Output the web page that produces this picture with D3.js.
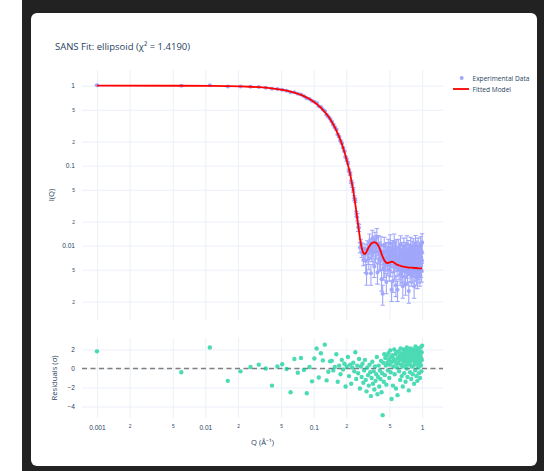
<!DOCTYPE html>
<html>
<head>
<meta charset="utf-8">
<script src="https://cdn.jsdelivr.net/npm/d3@7"></script>
<style>
  html, body { margin: 0; padding: 0; background: #fff; }
  svg { display: block; }
</style>
</head>
<body>
<div id="chart"></div>
<script>
const chartTitle = "SANS Fit: ellipsoid (χ² = 1.4190)";
const legendLabels = ["Experimental Data", "Fitted Model"];

// Q values (1/Å), 200 points
const q = [
  0.0010,0.0060,0.0110,0.0161,0.0211,0.0261,0.0311,0.0361,0.0412,0.0462,
  0.0512,0.0562,0.0612,0.0663,0.0713,0.0763,0.0813,0.0863,0.0914,0.0964,
  0.1014,0.1064,0.1114,0.1165,0.1215,0.1265,0.1315,0.1365,0.1416,0.1466,
  0.1516,0.1566,0.1616,0.1667,0.1717,0.1767,0.1817,0.1867,0.1918,0.1968,
  0.2018,0.2068,0.2118,0.2169,0.2219,0.2269,0.2319,0.2369,0.2420,0.2470,
  0.2520,0.2570,0.2620,0.2671,0.2721,0.2771,0.2821,0.2871,0.2922,0.2972,
  0.3022,0.3072,0.3122,0.3173,0.3223,0.3273,0.3323,0.3373,0.3424,0.3474,
  0.3524,0.3574,0.3624,0.3675,0.3725,0.3775,0.3825,0.3875,0.3926,0.3976,
  0.4026,0.4076,0.4126,0.4177,0.4227,0.4277,0.4327,0.4377,0.4428,0.4478,
  0.4528,0.4578,0.4628,0.4679,0.4729,0.4779,0.4829,0.4879,0.4930,0.4980,
  0.5030,0.5080,0.5130,0.5181,0.5231,0.5281,0.5331,0.5381,0.5432,0.5482,
  0.5532,0.5582,0.5632,0.5683,0.5733,0.5783,0.5833,0.5883,0.5934,0.5984,
  0.6034,0.6084,0.6134,0.6185,0.6235,0.6285,0.6335,0.6385,0.6436,0.6486,
  0.6536,0.6586,0.6637,0.6687,0.6737,0.6787,0.6837,0.6888,0.6938,0.6988,
  0.7038,0.7088,0.7139,0.7189,0.7239,0.7289,0.7339,0.7390,0.7440,0.7490,
  0.7540,0.7590,0.7641,0.7691,0.7741,0.7791,0.7841,0.7892,0.7942,0.7992,
  0.8042,0.8092,0.8143,0.8193,0.8243,0.8293,0.8343,0.8394,0.8444,0.8494,
  0.8544,0.8594,0.8645,0.8695,0.8745,0.8795,0.8845,0.8896,0.8946,0.8996,
  0.9046,0.9096,0.9147,0.9197,0.9247,0.9297,0.9347,0.9398,0.9448,0.9498,
  0.9548,0.9598,0.9649,0.9699,0.9749,0.9799,0.9849,0.9900,0.9950,1.0000
];

// measured intensity
const iExp = [
  1.014,0.995,1.013,0.979,0.978,0.971,0.960,0.943,0.913,0.909,
  0.891,0.867,0.827,0.826,0.790,0.773,0.738,0.695,0.682,0.644,
  0.629,0.606,0.554,0.540,0.504,0.483,0.433,0.409,0.385,0.357,
  0.326,0.302,0.284,0.245,0.230,0.205,0.190,0.168,0.151,0.128,
  0.118,0.108,0.0871,0.0792,0.0627,0.0574,0.0500,0.0392,0.0369,0.0249,
  0.0227,0.0170,0.0167,0.0095,0.0108,0.0083,0.0093,0.0066,0.0077,0.0091,
  0.0064,0.0045,0.0090,0.0080,0.0069,0.0109,0.0094,0.0045,0.0088,0.0122,
  0.0081,0.0103,0.0055,0.0115,0.0085,0.0095,0.0128,0.0046,0.0084,0.0105,
  0.0067,0.0087,0.0070,0.0101,0.0038,0.0068,0.0025,0.0081,0.0052,0.0099,
  0.0055,0.0083,0.0066,0.0035,0.0085,0.0070,0.0058,0.0094,0.0076,0.0050,
  0.0068,0.0107,0.0057,0.0085,0.0028,0.0074,0.0091,0.0036,0.0065,0.0079,
  0.0109,0.0053,0.0073,0.0089,0.0032,0.0066,0.0093,0.0059,0.0028,0.0075,
  0.0066,0.0094,0.0053,0.0070,0.0081,0.0044,0.0104,0.0061,0.0071,0.0047,
  0.0085,0.0057,0.0031,0.0077,0.0065,0.0097,0.0049,0.0072,0.0058,0.0086,
  0.0033,0.0065,0.0080,0.0054,0.0104,0.0062,0.0045,0.0072,0.0091,0.0058,
  0.0027,0.0068,0.0082,0.0060,0.0049,0.0074,0.0099,0.0064,0.0043,0.0077,
  0.0055,0.0088,0.0066,0.0047,0.0079,0.0095,0.0057,0.0070,0.0031,0.0085,
  0.0060,0.0071,0.0050,0.0105,0.0065,0.0075,0.0044,0.0067,0.0089,0.0057,
  0.0040,0.0080,0.0061,0.0097,0.0053,0.0071,0.0047,0.0086,0.0063,0.0073,
  0.0043,0.0058,0.0078,0.0101,0.0056,0.0069,0.0049,0.0083,0.0065,0.0110
];

// error bars
const iErr = [
  0.0080,0.0080,0.0080,0.0079,0.0078,0.0078,0.0077,0.0075,0.0074,0.0073,
  0.0071,0.0069,0.0068,0.0066,0.0063,0.0061,0.0059,0.0057,0.0054,0.0052,
  0.0075,0.0071,0.0067,0.0064,0.0060,0.0056,0.0053,0.0049,0.0046,0.0042,
  0.0065,0.0060,0.0055,0.0050,0.0046,0.0041,0.0037,0.0034,0.0030,0.0027,
  0.0047,0.0041,0.0036,0.0031,0.0027,0.0040,0.0034,0.0028,0.0023,0.0019,
  0.0024,0.0020,0.0017,0.0014,0.0012,0.0012,0.0014,0.0010,0.0012,0.0014,
  0.0018,0.0013,0.0025,0.0022,0.0019,0.0031,0.0026,0.0013,0.0025,0.0034,
  0.0023,0.0029,0.0015,0.0032,0.0024,0.0027,0.0036,0.0013,0.0024,0.0029,
  0.0019,0.0024,0.0020,0.0028,0.0011,0.0019,0.0007,0.0023,0.0015,0.0028,
  0.0015,0.0023,0.0018,0.0010,0.0024,0.0020,0.0016,0.0026,0.0021,0.0014,
  0.0019,0.0030,0.0016,0.0024,0.0008,0.0021,0.0025,0.0010,0.0018,0.0022,
  0.0031,0.0015,0.0020,0.0025,0.0009,0.0018,0.0026,0.0017,0.0008,0.0021,
  0.0018,0.0026,0.0015,0.0020,0.0023,0.0012,0.0029,0.0017,0.0020,0.0013,
  0.0024,0.0016,0.0009,0.0022,0.0018,0.0027,0.0014,0.0020,0.0016,0.0024,
  0.0009,0.0018,0.0022,0.0015,0.0029,0.0017,0.0013,0.0020,0.0025,0.0016,
  0.0008,0.0019,0.0023,0.0017,0.0014,0.0021,0.0028,0.0018,0.0012,0.0022,
  0.0015,0.0025,0.0018,0.0013,0.0022,0.0027,0.0016,0.0020,0.0009,0.0024,
  0.0017,0.0020,0.0014,0.0029,0.0018,0.0021,0.0012,0.0019,0.0025,0.0016,
  0.0011,0.0022,0.0017,0.0027,0.0015,0.0020,0.0013,0.0024,0.0018,0.0020,
  0.0012,0.0016,0.0022,0.0028,0.0016,0.0019,0.0014,0.0023,0.0018,0.0031
];

// fitted ellipsoid model
const iModel = [
  1.000,0.998,0.995,0.989,0.980,0.970,0.957,0.943,0.926,0.908,
  0.888,0.867,0.844,0.819,0.793,0.766,0.739,0.710,0.681,0.651,
  0.621,0.591,0.560,0.530,0.499,0.469,0.440,0.411,0.382,0.354,
  0.327,0.301,0.276,0.252,0.229,0.207,0.187,0.168,0.149,0.133,
  0.117,0.103,0.090,0.078,0.067,0.057,0.048,0.040,0.033,0.027,
  0.0220,0.0180,0.0150,0.0124,0.0106,0.0094,0.0086,0.0081,0.0079,0.0079,
  0.0081,0.0084,0.0088,0.0092,0.0096,0.0099,0.0102,0.0105,0.0107,0.0108,
  0.0109,0.0110,0.0110,0.0110,0.0109,0.0108,0.0106,0.0104,0.0101,0.0098,
  0.0095,0.0091,0.0087,0.0083,0.0079,0.0076,0.0073,0.0070,0.0068,0.0066,
  0.0064,0.0063,0.0062,0.0061,0.0061,0.00605,0.00605,0.0061,0.0061,0.00615,
  0.0062,0.0062,0.00625,0.00625,0.0063,0.0063,0.0063,0.00625,0.0062,0.00615,
  0.0061,0.00605,0.0060,0.00595,0.0059,0.00585,0.0058,0.00578,0.00575,0.00572,
  0.0057,0.00568,0.00566,0.00564,0.00562,0.0056,0.00558,0.00556,0.00554,0.00552,
  0.0055,0.00549,0.00548,0.00547,0.00546,0.00545,0.00544,0.00543,0.00542,0.00541,
  0.0054,0.00539,0.00538,0.00537,0.00536,0.00535,0.00534,0.00533,0.00532,0.00531,
  0.0053,0.0053,0.0053,0.0053,0.0053,0.0053,0.0053,0.0053,0.0053,0.0053,
  0.0053,0.0053,0.0053,0.0053,0.0053,0.00525,0.00525,0.00525,0.00525,0.00525,
  0.00525,0.00525,0.00525,0.00525,0.00525,0.00525,0.00525,0.00525,0.00525,0.00525,
  0.0052,0.0052,0.0052,0.0052,0.0052,0.0052,0.0052,0.0052,0.0052,0.0052,
  0.0052,0.0052,0.0052,0.0052,0.0052,0.0052,0.0052,0.0052,0.0052,0.0052
];

// normalised residuals (sigma)
const residuals = [
  1.8,-0.4,2.2,-1.3,-0.3,0.15,0.4,0.0,-1.8,0.2,
  0.45,-0.05,-2.5,1.0,-0.45,1.1,-0.15,-2.6,0.15,-1.35,
  1.05,2.1,-0.95,1.6,0.85,2.5,-1.25,-0.35,0.75,0.8,
  -0.2,0.15,1.5,-1.4,0.3,-0.6,0.9,-0.1,0.5,-1.9,
  0.2,1.2,-0.8,0.4,-1.6,0.1,0.6,-0.3,1.7,-1.1,
  0.3,-0.5,1.0,-2.1,0.2,-0.9,0.5,-1.5,-0.2,0.9,
  -1.2,-2.4,0.1,-0.7,-1.8,0.4,-0.4,-2.9,-1.0,0.7,
  -1.6,-0.3,-2.2,0.2,-1.3,-0.6,1.2,-2.7,-0.9,0.3,
  -1.9,-0.2,-1.1,0.8,-2.5,-0.5,-4.9,0.6,-1.4,1.5,
  -0.7,1.1,0.3,-1.7,1.3,0.6,-0.2,1.6,0.9,-1.0,
  0.4,1.9,-0.4,1.2,-3.2,0.7,1.4,-1.8,0.2,1.0,
  2.0,-0.6,0.8,1.5,-2.1,0.5,1.7,0.1,-2.8,1.1,
  0.6,1.8,-0.3,0.9,1.4,-1.2,2.1,0.4,1.0,-0.8,
  1.6,0.2,-1.9,1.3,0.7,2.0,-0.5,1.1,0.3,1.7,
  -1.4,0.8,1.5,0.0,2.2,0.6,-0.9,1.2,1.9,0.4,
  -2.3,1.0,1.6,0.5,-0.4,1.3,2.1,0.8,-1.1,1.4,
  0.2,1.8,0.9,-0.6,1.5,2.0,0.3,1.1,-1.6,1.7,
  0.6,1.2,-0.2,2.3,0.9,1.4,-0.8,1.0,1.9,0.4,
  -1.3,1.6,0.7,2.1,0.1,1.2,-0.5,1.8,0.8,1.3,
  -1.0,0.5,1.5,2.2,0.3,1.1,-0.3,1.7,0.9,2.4
];

const xTicks = [0.001, 0.002, 0.005, 0.01, 0.02, 0.05, 0.1, 0.2, 0.5, 1];
const xTickLabels = ["0.001", "2", "5", "0.01", "2", "5", "0.1", "2", "5", "1"];
const yTicks = [1, 0.5, 0.2, 0.1, 0.05, 0.02, 0.01, 0.005, 0.002];
const yTickLabels = ["1", "5", "2", "0.1", "5", "2", "0.01", "5", "2"];
const resTicks = [2, 0, -2, -4];
const resTickLabels = ["2", "0", "\u22122", "\u22124"];

const W = 544, H = 471;
const fontFamily = '"Open Sans", "Liberation Sans", Arial, sans-serif';
const textColor = "#2a3f5f";
const gridColor = "#ebf0f8";
const expColor = "#636efa";
const fitColor = "#ff0000";
const resColor = "#00cc96";

const plot = {left: 82, right: 443, top: 70, bottom: 320};
const res = {top: 338, bottom: 418};

const svg = d3.select("#chart").append("svg")
    .attr("width", W)
    .attr("height", H)
    .attr("font-family", fontFamily);

// dark frame + card
svg.append("rect")
    .attr("x", 22).attr("y", 0)
    .attr("width", W - 22).attr("height", H)
    .attr("fill", "#222222");
svg.append("rect")
    .attr("x", 31).attr("y", 13)
    .attr("width", 506).attr("height", 453)
    .attr("rx", 6)
    .attr("fill", "#ffffff");

const x = d3.scaleLog().domain([10 ** -3.138, 10 ** 0.193]).range([plot.left, plot.right]);
const y = d3.scaleLog().domain([10 ** -2.93, 10 ** 0.196]).range([plot.bottom, plot.top]);
const yRes = d3.scaleLinear().domain([-5.2, 3.2]).range([res.bottom, res.top]);

function isDecade(v) {
    const l = Math.log10(Math.abs(v));
    return Math.abs(l - Math.round(l)) < 1e-9;
}

function styleAxis(g) {
    g.select(".domain").remove();
    g.selectAll(".tick line").attr("stroke", gridColor).attr("stroke-width", 1);
    g.selectAll(".tick text").attr("fill", textColor);
}

// main panel grid
svg.append("g")
    .attr("transform", `translate(0,${plot.bottom})`)
    .call(d3.axisBottom(x).tickValues(xTicks).tickFormat("").tickSize(-(plot.bottom - plot.top)))
    .call(styleAxis);

svg.append("g")
    .attr("transform", `translate(${plot.left},0)`)
    .call(d3.axisLeft(y).tickValues(yTicks).tickFormat((d, i) => yTickLabels[i])
        .tickSize(-(plot.right - plot.left)).tickPadding(7))
    .call(styleAxis)
    .call(g => g.selectAll(".tick text")
        .attr("font-size", d => isDecade(d) ? 6.6 : 4.8));

// residual panel grid
svg.append("g")
    .attr("transform", `translate(0,${res.bottom})`)
    .call(d3.axisBottom(x).tickValues(xTicks).tickFormat((d, i) => xTickLabels[i])
        .tickSize(-(res.bottom - res.top)))
    .call(styleAxis)
    .call(g => g.selectAll(".tick text")
        .attr("dy", null)
        .attr("y", d => isDecade(d) ? 11.7 : 9.7)
        .attr("font-size", d => isDecade(d) ? 6.6 : 4.8));

svg.append("g")
    .attr("transform", `translate(${plot.left},0)`)
    .call(d3.axisLeft(yRes).tickValues(resTicks).tickFormat((d, i) => resTickLabels[i])
        .tickSize(-(plot.right - plot.left)).tickPadding(7))
    .call(styleAxis)
    .call(g => g.selectAll(".tick text").attr("font-size", 6.6));

// clip for main panel
svg.append("clipPath").attr("id", "clip-main")
    .append("rect")
    .attr("x", plot.left).attr("y", plot.top)
    .attr("width", plot.right - plot.left).attr("height", plot.bottom - plot.top);

const points = q.map((qv, i) => ({q: qv, v: iExp[i], e: iErr[i], m: iModel[i], r: residuals[i]}));

// experimental data with error bars
const expLayer = svg.append("g")
    .attr("clip-path", "url(#clip-main)")
    .attr("opacity", 0.6);

const capHalf = 2.2;
expLayer.selectAll("path.err")
    .data(points)
    .join("path")
    .attr("class", "err")
    .attr("fill", "none")
    .attr("stroke", expColor)
    .attr("stroke-width", 1.1)
    .attr("d", d => {
        const cx = x(d.q);
        const yt = y(d.v + d.e);
        const yb = y(Math.max(d.v - d.e, 1e-6));
        return `M${cx},${yt}V${yb}M${cx - capHalf},${yt}H${cx + capHalf}M${cx - capHalf},${yb}H${cx + capHalf}`;
    });

expLayer.selectAll("circle.exp")
    .data(points)
    .join("circle")
    .attr("class", "exp")
    .attr("cx", d => x(d.q))
    .attr("cy", d => y(d.v))
    .attr("r", 2)
    .attr("fill", expColor);

// fitted model
const line = d3.line().x(d => x(d.q)).y(d => y(d.m));
svg.append("path")
    .datum(points)
    .attr("clip-path", "url(#clip-main)")
    .attr("fill", "none")
    .attr("stroke", fitColor)
    .attr("stroke-width", 1.8)
    .attr("stroke-linejoin", "round")
    .attr("d", line);

// residuals
svg.append("line")
    .attr("x1", plot.left).attr("x2", plot.right)
    .attr("y1", yRes(0)).attr("y2", yRes(0))
    .attr("stroke", "#7f7f7f")
    .attr("stroke-width", 1.3)
    .attr("stroke-dasharray", "5,3.5");

svg.append("g")
    .attr("opacity", 0.7)
    .selectAll("circle")
    .data(points)
    .join("circle")
    .attr("cx", d => x(d.q))
    .attr("cy", d => yRes(d.r))
    .attr("r", 2.2)
    .attr("fill", resColor);

// titles
svg.append("text")
    .attr("x", 55).attr("y", 49.5)
    .attr("font-size", 9.5)
    .attr("fill", textColor)
    .text(chartTitle);

svg.append("text")
    .attr("transform", `translate(50.7,${(plot.top + plot.bottom) / 2}) rotate(-90)`)
    .attr("text-anchor", "middle")
    .attr("dominant-baseline", "central")
    .attr("font-size", 7.7)
    .attr("fill", textColor)
    .text("I(Q)");

svg.append("text")
    .attr("transform", `translate(54,${(res.top + res.bottom) / 2}) rotate(-90)`)
    .attr("text-anchor", "middle")
    .attr("dominant-baseline", "central")
    .attr("font-size", 7.7)
    .attr("fill", textColor)
    .text("Residuals (σ)");

svg.append("text")
    .attr("x", (plot.left + plot.right) / 2).attr("y", 444.5)
    .attr("text-anchor", "middle")
    .attr("font-size", 7.7)
    .attr("fill", textColor)
    .text("Q (Å⁻¹)");

// legend
const legend = svg.append("g");
legend.append("circle")
    .attr("cx", 461.7).attr("cy", 78)
    .attr("r", 2)
    .attr("fill", expColor)
    .attr("opacity", 0.6);
legend.append("line")
    .attr("x1", 453).attr("x2", 469)
    .attr("y1", 89).attr("y2", 89)
    .attr("stroke", fitColor)
    .attr("stroke-width", 1.8);
legend.selectAll("text")
    .data(legendLabels)
    .join("text")
    .attr("x", 472.5)
    .attr("y", (d, i) => 78 + i * 11)
    .attr("dominant-baseline", "central")
    .attr("font-size", 6.6)
    .attr("fill", textColor)
    .text(d => d);
</script>
</body>
</html>
